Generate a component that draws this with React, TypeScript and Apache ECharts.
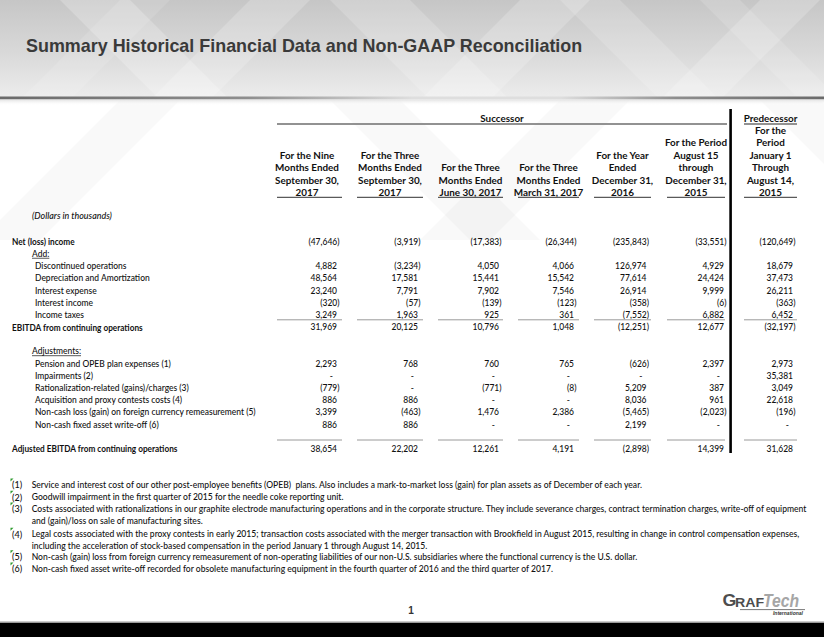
import React, { useEffect, useRef } from "react";
import * as echarts from "echarts";

// ---------------- DATA ----------------
const title = "Summary Historical Financial Data and Non-GAAP Reconciliation";
const groupHeaders = ["Successor", "Predecessor"];
const columnHeaders: string[][] = [
  ["For the Nine", "Months Ended", "September 30,", "2017"],
  ["For the Three", "Months Ended", "September 30,", "2017"],
  ["For the Three", "Months Ended", "June 30, 2017"],
  ["For the Three", "Months Ended", "March 31, 2017"],
  ["For the Year", "Ended", "December 31,", "2016"],
  ["For the Period", "August 15", "through", "December 31,", "2015"],
  ["For the", "Period", "January 1", "Through", "August 14,", "2015"],
];
const unitsNote = "(Dollars in thousands)";

const netLossIncome = [-47646, -3919, -17383, -26344, -235843, -33551, -120649];
const discontinuedOps = [4882, -3234, 4050, 4066, 126974, 4929, 18679];
const depreciationAmort = [48564, 17581, 15441, 15542, 77614, 24424, 37473];
const interestExpense = [23240, 7791, 7902, 7546, 26914, 9999, 26211];
const interestIncome = [-320, -57, -139, -123, -358, -6, -363];
const incomeTaxes = [3249, 1963, 925, 361, -7552, 6882, 6452];
const ebitdaContinuing = [31969, 20125, 10796, 1048, -12251, 12677, -32197];
const pensionOpeb = [2293, 768, 760, 765, -626, 2397, 2973];
const impairments = [null, null, null, null, null, null, 35381];
const rationalization = [-779, null, -771, -8, 5209, 387, 3049];
const acquisitionProxy = [886, 886, null, null, 8036, 961, 22618];
const fxRemeasurement = [3399, -463, 1476, 2386, -5465, -2023, -196];
const fixedAssetWriteOff = [886, 886, null, null, 2199, null, null];
const adjustedEbitda = [38654, 22202, 12261, 4191, -2898, 14399, 31628];

type Row = { label: string; kind: "bold" | "item" | "sub"; values?: (number | null)[] };
const section1: Row[] = [
  { label: "Net (loss) income", kind: "bold", values: netLossIncome },
  { label: "Add:", kind: "sub" },
  { label: "Discontinued operations", kind: "item", values: discontinuedOps },
  { label: "Depreciation and Amortization", kind: "item", values: depreciationAmort },
  { label: "Interest expense", kind: "item", values: interestExpense },
  { label: "Interest income", kind: "item", values: interestIncome },
  { label: "Income taxes", kind: "item", values: incomeTaxes },
  { label: "EBITDA from continuing operations", kind: "bold", values: ebitdaContinuing },
];
const section2: Row[] = [
  { label: "Adjustments:", kind: "sub" },
  { label: "Pension and OPEB plan expenses (1)", kind: "item", values: pensionOpeb },
  { label: "Impairments (2)", kind: "item", values: impairments },
  { label: "Rationalization-related (gains)/charges (3)", kind: "item", values: rationalization },
  { label: "Acquisition and proxy contests costs (4)", kind: "item", values: acquisitionProxy },
  { label: "Non-cash loss (gain) on foreign currency remeasurement (5)", kind: "item", values: fxRemeasurement },
  { label: "Non-cash fixed asset write-off (6)", kind: "item", values: fixedAssetWriteOff },
];
const finalRow: Row = { label: "Adjusted EBITDA from continuing operations", kind: "bold", values: adjustedEbitda };

const footnoteNums = ["(1)", "(2)", "(3)", "(4)", "(5)", "(6)"];
const footnoteLines: string[][] = [
  ["Service and interest cost of our other post-employee benefits (OPEB)  plans. Also includes a mark-to-market loss (gain) for plan assets as of December of each year."],
  ["Goodwill impairment in the first quarter of 2015 for the needle coke reporting unit."],
  [
    "Costs associated with rationalizations in our graphite electrode manufacturing operations and in the corporate structure. They include severance charges, contract termination charges, write-off of equipment",
    "and (gain)/loss on sale of manufacturing sites.",
  ],
  [
    "Legal costs associated with the proxy contests in early 2015; transaction costs associated with the merger transaction with Brookfield in August 2015, resulting in change in control compensation expenses,",
    "including the acceleration of stock-based compensation in the period January 1 through August 14, 2015.",
  ],
  ["Non-cash (gain) loss from foreign currency remeasurement of non-operating liabilities of our non-U.S. subsidiaries where the functional currency is the U.S. dollar."],
  ["Non-cash fixed asset write-off recorded for obsolete manufacturing equipment in the fourth quarter of 2016 and the third quarter of 2017."],
];
const pageNumber = "1";

// ---------------- LAYOUT ----------------
const W = 824;
const H = 637;
const FONT = "Lato";
const BODY = 9.6;
const HEAD = 9.4;
const FOOT = 8.6;
const TXT = "#111111";
const REG = "500";
const colRight = [337, 418, 499, 574, 646.5, 724, 793];
const colSpan: [number, number][] = [
  [277, 342], [357, 423], [438, 503], [518, 579], [594, 651], [667, 725], [744, 797],
];

function measure(text: string, font: string): number {
  const c = document.createElement("canvas").getContext("2d");
  if (!c) return text.length * 4;
  c.font = font;
  return c.measureText(text).width || text.length * 4;
}

function fmt(v: number | null): string {
  if (v === null) return "-";
  const s = Math.abs(v).toLocaleString("en-US");
  return v < 0 ? `(${s})` : s;
}

function txt(
  text: string, x: number, y: number, opts: {
    size?: number; weight?: string; style?: string; align?: string; family?: string; fill?: string; sx?: number; va?: string;
  } = {}
) {
  const align = opts.align || "left";
  const va = opts.va || "middle";
  return {
    type: "text",
    x, y,
    scaleX: opts.sx ?? 1,
    silent: true,
    style: {
      text,
      fill: opts.fill || TXT,
      fontSize: opts.size || BODY,
      fontFamily: opts.family || FONT,
      fontWeight: opts.weight || REG,
      fontStyle: opts.style || "normal",
      align, verticalAlign: va, textAlign: align, textVerticalAlign: va,
    },
  };
}

function line(x1: number, y1: number, x2: number, y2: number, stroke: string, lw: number) {
  return { type: "line", silent: true, shape: { x1, y1, x2, y2 }, style: { stroke, lineWidth: lw } };
}

function buildElements() {
  const els: any[] = [];
  const bodyScale = 115 / measure("Depreciation and Amortization", `${REG} ${BODY}px ${FONT}`);
  const boldScale = 131 / measure("EBITDA from continuing operations", `bold ${BODY}px ${FONT}`);
  const headScale = 64 / measure("September 30,", `bold ${HEAD}px ${FONT}`);
  const unitScale = 80 / measure(unitsNote, `italic ${REG} ${BODY}px ${FONT}`);
  const footScale = 612 / measure(footnoteLines[0][0], `${REG} ${FOOT}px ${FONT}`);
  const titleScale = 557 / measure(title, `bold 18px 'Liberation Sans'`);

  // header background
  els.push({
    type: "rect", silent: true, shape: { x: 0, y: 0, width: W, height: 97 },
    style: { fill: new echarts.graphic.LinearGradient(0, 0, 0, 1, [
      { offset: 0, color: "#c6c6c6" }, { offset: 0.55, color: "#d9d9d9" }, { offset: 1, color: "#ececec" },
    ]) },
  });
  const stripes: [number, number, number, number][] = [
    [60, 70, 1, 0.22], [250, 60, -1, 0.2], [330, 80, 1, 0.18], [520, 70, -1, 0.2],
    [560, 60, 1, 0.16], [760, 60, -1, 0.2], [700, 40, 1, 0.14], [120, 50, -1, 0.12],
  ];
  stripes.forEach(([x0, w, dir, op]) => {
    const dx = dir * 97;
    els.push({
      type: "polygon", silent: true,
      shape: { points: [[x0, 0], [x0 + w, 0], [x0 + w + dx, 97], [x0 + dx, 97]] },
      style: { fill: "#ffffff", opacity: op },
    });
  });
  // faint body shapes
  const bodyStripes: [number, number, number][] = [[330, 70, 1], [560, 70, -1], [760, 60, 1], [120, 60, -1]];
  bodyStripes.forEach(([x0, w, dir]) => {
    const dx = dir * 140;
    els.push({
      type: "polygon", silent: true,
      shape: { points: [[x0, 100], [x0 + w, 100], [x0 + w + dx, 240], [x0 + dx, 240]] },
      style: { fill: "#000000", opacity: 0.025 },
    });
  });
  els.push({
    type: "rect", silent: true, shape: { x: 0, y: 96.5, width: W, height: 3 },
    style: { fill: new echarts.graphic.LinearGradient(0, 0, 1, 0, [
      { offset: 0, color: "#6a6a6a" }, { offset: 0.3, color: "#8e8e8e" }, { offset: 0.5, color: "#dedede" },
      { offset: 0.68, color: "#dedede" }, { offset: 0.82, color: "#8e8e8e" }, { offset: 1, color: "#6a6a6a" },
    ]) },
  });
  els.push({
    type: "rect", silent: true, shape: { x: 0, y: 99.5, width: W, height: 6 },
    style: { fill: new echarts.graphic.LinearGradient(0, 0, 0, 1, [
      { offset: 0, color: "#e2e2e2" }, { offset: 1, color: "rgba(255,255,255,0)" },
    ]) },
  });

  // title
  els.push(txt(title, 26, 46, { size: 18, weight: "bold", family: "'Liberation Sans', Arial", fill: "#3a3a3a", sx: titleScale }));

  // group headers
  const succX1 = colSpan[0][0], succX2 = 727;
  els.push(txt(groupHeaders[0], (succX1 + succX2) / 2, 118, { size: HEAD, weight: "bold", align: "center", sx: headScale }));
  els.push(line(succX1, 124, succX2, 124, "#6e6e6e", 1.3));
  els.push(txt(groupHeaders[1], (colSpan[6][0] + colSpan[6][1]) / 2, 118, { size: HEAD, weight: "bold", align: "center", sx: headScale }));
  els.push(line(colSpan[6][0], 124, colSpan[6][1], 124, "#6e6e6e", 1.3));

  // column headers
  const headBottom = 192.2, headStep = 12.45;
  columnHeaders.forEach((lines, ci) => {
    const cx = (colSpan[ci][0] + colSpan[ci][1]) / 2 - (ci === 0 ? 2.5 : 0);
    lines.forEach((t, li) => {
      const y = headBottom - (lines.length - 1 - li) * headStep;
      els.push(txt(t, cx, y, { size: HEAD, weight: "bold", align: "center", sx: headScale }));
    });
    els.push(line(colSpan[ci][0], 197.3, colSpan[ci][1], 197.3, "#5a5a5a", 1.2));
  });

  els.push(txt(unitsNote, 32, 215, { style: "italic", sx: unitScale }));

  const drawRow = (r: Row, y: number) => {
    if (r.kind === "bold") {
      els.push(txt(r.label, 12, y, { weight: "bold", sx: boldScale }));
    } else if (r.kind === "sub") {
      els.push(txt(r.label, 32, y, { sx: bodyScale }));
      const w = measure(r.label, `${REG} ${BODY}px ${FONT}`) * bodyScale;
      els.push(line(32, y + 5, 32 + w, y + 5, TXT, 0.7));
    } else {
      els.push(txt(r.label, 35, y, { sx: bodyScale }));
    }
    if (r.values) {
      r.values.forEach((v, ci) => {
        const R = colRight[ci];
        const x = v === null ? R - 4 : v < 0 ? R + 2.5 : R;
        els.push(txt(fmt(v), x, y, { align: "right", sx: bodyScale }));
      });
    }
  };

  const s1Start = 241, s1Step = 12.25;
  section1.forEach((r, i) => drawRow(r, s1Start + i * s1Step));
  const s2Start = 350.7, s2Step = 12.2;
  section2.forEach((r, i) => drawRow(r, s2Start + i * s2Step));
  drawRow(finalRow, s2Start + (section2.length + 1) * s2Step);

  // total underlines
  colSpan.forEach(([a, b]) => {
    els.push(line(a, 319.8, b, 319.8, "#9a9a9a", 1));
    els.push(line(a, 440, b, 440, "#9a9a9a", 1));
  });

  // thick divider
  els.push({ type: "rect", silent: true, shape: { x: 729.3, y: 109, width: 2.6, height: 344 }, style: { fill: "#000000" } });

  // footnotes
  const footY = [485, 497.3, 509, 534.3, 556.7, 569];
  const footStep = 11.5;
  footnoteNums.forEach((n, i) => {
    const y = footY[i];
    els.push({
      type: "polygon", silent: true,
      shape: { points: [[10.5, y - 6.5], [13.5, y - 6.5], [10.5, y - 3.5]] },
      style: { fill: "#2e9b2e" },
    });
    els.push(txt(n, 12, y, { size: FOOT, sx: footScale * 1.05 }));
    footnoteLines[i].forEach((t, li) => {
      els.push(txt(t, 31.7, y + li * footStep, { size: FOOT, sx: footScale }));
    });
  });

  // footer
  els.push({ type: "rect", silent: true, shape: { x: 0, y: 621.5, width: W, height: 1.5 }, style: { fill: "#9a9a9a" } });
  els.push({ type: "rect", silent: true, shape: { x: 0, y: 623, width: W, height: H - 623 }, style: { fill: "#000000" } });
  els.push(txt(pageNumber, 411, 610, { size: 10, weight: "bold", family: "'Liberation Sans', Arial", fill: "#333333", align: "center" }));

  // logo
  els.push(txt("G", 722.5, 609, { size: 17, weight: "bold", family: "'Liberation Sans', Arial", fill: "#4d4d4d", va: "bottom", sx: 1.05 }));
  els.push(txt("RAF", 735, 609, { size: 13.5, weight: "bold", family: "'Liberation Sans', Arial", fill: "#4d4d4d", va: "bottom", sx: 1.05 }));
  els.push(txt("Tech", 763, 610, { size: 17.5, weight: "bold", style: "italic", family: "'Liberation Sans', Arial", fill: "#a6a6a6", va: "bottom", sx: 0.9 }));
  els.push(line(740, 609.6, 805, 609.6, "#555555", 0.8));
  els.push(txt("International", 803, 613, { size: 5, weight: "bold", style: "italic", family: "'Liberation Sans', Arial", fill: "#333333", align: "right" }));

  return els;
}

export default function App() {
  const ref = useRef<HTMLDivElement>(null);
  useEffect(() => {
    if (!ref.current) return;
    const chart = echarts.init(ref.current, undefined, { renderer: "svg", width: W, height: H });
    chart.setOption({
      animation: false,
      backgroundColor: "#ffffff",
      graphic: { elements: buildElements() },
    });
    return () => chart.dispose();
  }, []);
  return (
    <div
      ref={ref}
      style={{ position: "absolute", left: 0, top: 0, width: W, height: H, background: "#ffffff" }}
    />
  );
}
